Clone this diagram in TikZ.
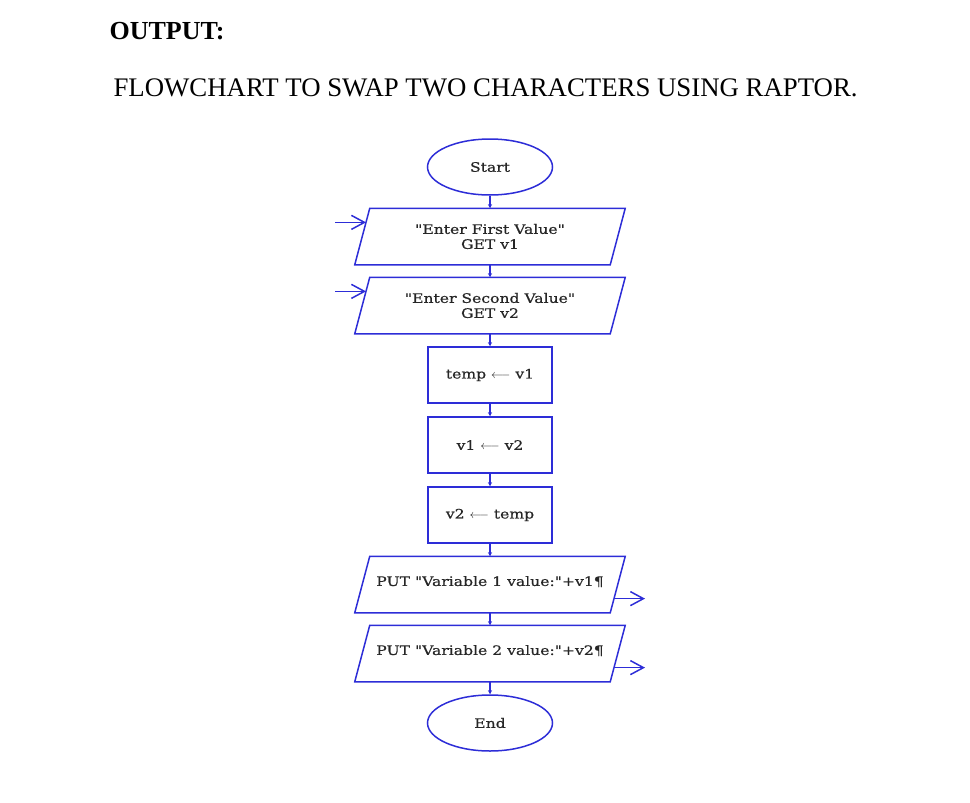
\documentclass[tikz,border=0pt]{standalone}
\usepackage{fontspec}
\setmainfont{Liberation Serif}
\newfontfamily\boxfont[FakeStretch=1.2, FakeBold=0.6]{DejaVu Serif}
\usepackage{tikz}
\usetikzlibrary{positioning, arrows.meta, shapes.geometric, calc}
\definecolor{raptorblue}{RGB}{45,45,215}

\begin{document}
\begin{tikzpicture}[x=1pt, y=-1pt, node distance=12.5pt,
        every node/.style={font=\boxfont\fontsize{13}{15}\selectfont, text=black!85},
        flowline/.style={-{Stealth[length=4pt,width=4pt]}, draw=raptorblue, line width=1.5pt},
        ioline/.style={-{Straight Barb[length=13pt,width=14pt]}, draw=raptorblue, line width=1.5pt},
        terminal/.style={ellipse, draw=raptorblue, line width=1.5pt, minimum width=125pt, minimum height=56pt},
        assign/.style={rectangle, draw=raptorblue, line width=1.5pt, minimum width=124pt, minimum height=56pt},
        iobox/.style={rectangle, line width=1.5pt, minimum width=254pt, minimum height=55pt, align=center},
        ioborder/.style={draw=raptorblue, line width=1.5pt, line join=miter}]
      \useasboundingbox (0,0) rectangle (970,803);
      % Headings
      \node[anchor=west, font=\bfseries\fontsize{26}{30}\selectfont, text=black] (head) at (106,31) {OUTPUT:};
      \node[anchor=west, font=\fontsize{26.8}{30}\selectfont, text=black] (title) at (110,88)
            {FLOWCHART TO SWAP TWO CHARACTERS USING RAPTOR.};
      % Flowchart
      \node[terminal] (start) at (490,167) {Start};
      \node[iobox, below=of start] (get1) {"Enter First Value"\\GET v1};
      \node[iobox, below=of get1] (get2) {"Enter Second Value"\\GET v2};
      \node[assign, below=of get2] (swap1) {temp $\longleftarrow$ v1};
      \node[assign, below=of swap1] (swap2) {v1 $\longleftarrow$ v2};
      \node[assign, below=of swap2] (swap3) {v2 $\longleftarrow$ temp};
      \node[iobox, below=of swap3] (put1) {\raisebox{7pt}{PUT "Variable 1 value:"+v1¶}};
      \node[iobox, below=of put1] (put2) {\raisebox{7pt}{PUT "Variable 2 value:"+v2¶}};
      \node[terminal, below=of put2] (end) {End};
      % Parallelogram borders
      \foreach \n in {get1, get2, put1, put2}
        \draw[ioborder] ($(\n.south west)+(-7.5,0)$) -- ($(\n.north west)+(7.5,0)$)
              -- ($(\n.north east)+(7.5,0)$) -- ($(\n.south east)+(-7.5,0)$) -- cycle;
      \foreach \a/\b in {start/get1, get1/get2, get2/swap1, swap1/swap2,
                         swap2/swap3, swap3/put1, put1/put2, put2/end}
        \draw[flowline] (\a) -- (\b);
      % Input and output arrows
      \foreach \n in {get1, get2} {
        \coordinate (\n tip) at ($(\n.north west)!0.25!(\n.south west)+(3.75,0)$);
        \coordinate (\n src) at ($(\n tip)+(-31,0)$);
        \draw[ioline] (\n src) -- (\n tip);
      }
      \foreach \n in {put1, put2} {
        \coordinate (\n src) at ($(\n.north east)!0.75!(\n.south east)+(-3.75,0)$);
        \coordinate (\n tip) at ($(\n src)+(31,0)$);
        \draw[ioline] (\n src) -- (\n tip);
      }
\end{tikzpicture}
\end{document}
